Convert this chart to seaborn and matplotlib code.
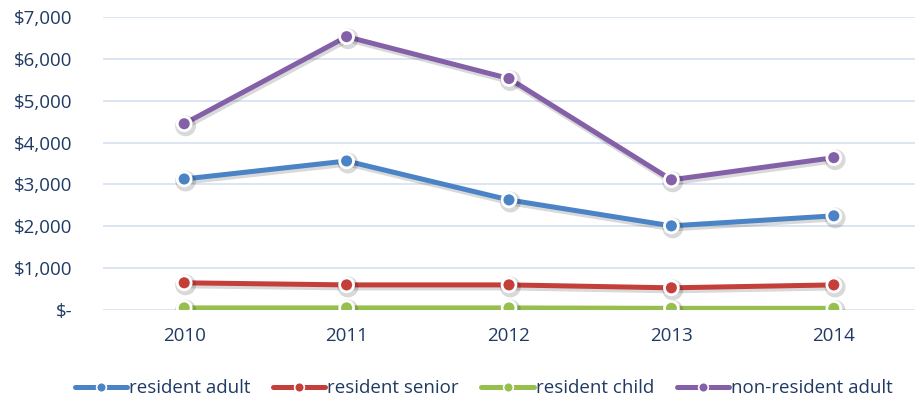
import matplotlib
matplotlib.use("Agg")
import matplotlib.pyplot as plt
import matplotlib.patheffects as pe
from matplotlib.lines import Line2D
import seaborn as sns
import pandas as pd
from matplotlib.ticker import FuncFormatter

years = ["2010", "2011", "2012", "2013", "2014"]
resident_adult = [3130, 3560, 2630, 2010, 2250]
resident_senior = [650, 600, 600, 530, 600]
resident_child = [50, 50, 50, 40, 40]
non_resident_adult = [4450, 6530, 5530, 3110, 3640]
series_names = ["resident adult", "resident senior", "resident child", "non-resident adult"]
colors = ["#4a84c6", "#c43e3a", "#97bf4e", "#8460a8"]

rows = []
for name, vals in zip(series_names, [resident_adult, resident_senior, resident_child, non_resident_adult]):
    for i, (y, v) in enumerate(zip(years, vals)):
        rows.append({"year": y, "pos": i, "value": v, "series": name})
df = pd.DataFrame(rows)

sns.set_theme(style="white")
plt.rcParams['font.family'] = ['Open Sans', 'DejaVu Sans']
text_color = "#1f3a63"

fig = plt.figure(figsize=(9.23, 4.01), dpi=100)
ax = fig.add_axes([0.1116, 0.2269, 0.8797, 0.7307])

shadow = [pe.SimpleLineShadow(offset=(1, -1.5), shadow_color="#000000", alpha=0.15, linewidth=5), pe.Normal()]
sns.lineplot(data=df, x="pos", y="value", hue="series", hue_order=series_names,
             palette=colors, linewidth=3.6, marker="o", markersize=10,
             markeredgecolor="white", markeredgewidth=2, ax=ax, legend=False,
             path_effects=shadow)

ax.set_xlim(-0.5, 4.5)
ax.set_ylim(0, 7000)
ax.set_xticks(range(len(years)))
ax.set_xticklabels(years)
ax.set_yticks(range(0, 7001, 1000))
ax.yaxis.set_major_formatter(FuncFormatter(lambda v, p: "$-" if v == 0 else f"${int(v):,}"))
ax.grid(axis="y", color="#d6e2f0", linewidth=1.2)
ax.set_axisbelow(True)
for s in ax.spines.values():
    s.set_visible(False)
ax.tick_params(axis="both", length=0, labelsize=13.5, colors=text_color)
ax.tick_params(axis="x", pad=12)
ax.tick_params(axis="y", pad=22)
ax.set_xlabel("")
ax.set_ylabel("")

handles = [Line2D([0], [0], color=c, linewidth=3.6, marker="o", markersize=7,
                  markeredgecolor="white", markeredgewidth=1.2) for c in colors]
fig.legend(handles, series_names, loc="center", bbox_to_anchor=(0.524, 0.032), ncol=4, frameon=False,
           fontsize=13.5, handlelength=2.8, handletextpad=0.1, columnspacing=1.2,
           labelcolor=text_color)

fig.savefig("out.png", dpi=100)
